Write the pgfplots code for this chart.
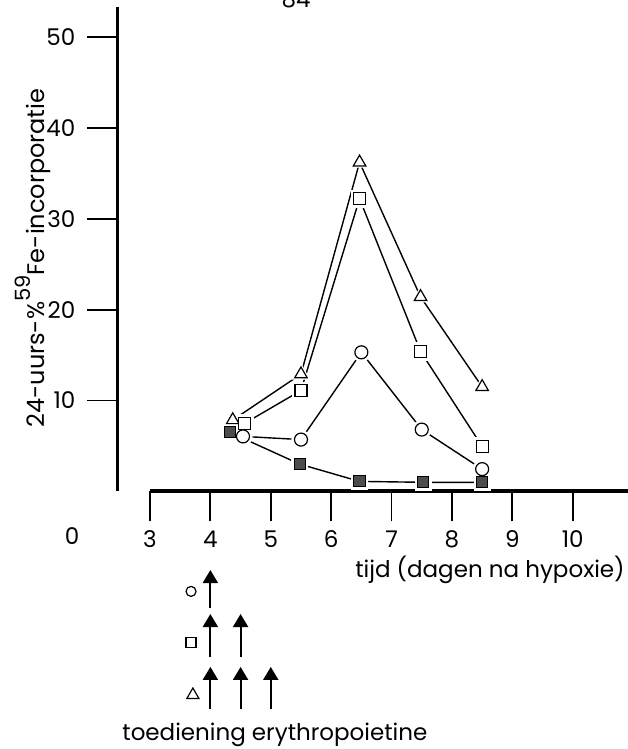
\documentclass[border=0pt]{standalone}
\usepackage{fontspec}
\setmainfont{Poppins}
\usepackage{pgfplots}
\usepackage{pgfplotstable}
\pgfplotsset{compat=1.18}
\usetikzlibrary{arrows.meta}

% 24-hour 59Fe incorporation per group (day after hypoxia, percent)
\pgfplotstableread{
x     y
4.37  7.85
5.50  12.9
6.47  36.2
7.48  21.4
8.50  11.5
}\triangledata
\pgfplotstableread{
x     y
4.57  7.5
5.50  11.1
6.47  32.2
7.48  15.4
8.50  4.95
}\squaredata
\pgfplotstableread{
x     y
4.54  6.05
5.50  5.7
6.50  15.3
7.50  6.8
8.50  2.45
}\circledata
\pgfplotstableread{
x     y
4.32  6.5
5.48  3.0
6.47  1.1
7.52  1.0
8.50  1.0
}\controldata
% erythropoietin injections: day, arrow foot, arrow length
\pgfplotstableread{
x    y       v
4.0  -12.83  4.18
4.0  -18.22  4.73
4.5  -18.22  4.73
4.0  -23.94  4.63
4.5  -23.94  4.63
5.0  -23.94  4.63
}\injections

\begin{document}
\begin{tikzpicture}[font=\fontsize{11.5}{13}\selectfont]
\begin{axis}[
  x=30.195pt, y=4.545pt,
  xmin=2.457, xmax=10.915, ymin=0, ymax=53.3,
  axis lines=left,
  axis line style={-, line width=1.4pt},
  x axis line style={draw=none},
  xtick={3,...,10}, ytick={10,20,30,40,50},
  tick align=outside,
  major tick length=15pt,
  tick style={black, line width=0.9pt},
  /pgf/number format/assume math mode=true,
  ticklabel style={font=\fontsize{11.5}{13}\selectfont, inner sep=0pt},
  xticklabel style={anchor=base, yshift=-13.3pt},
  yticklabel style={anchor=east, xshift=-5.75pt},
  clip=false,
]
% frame of the whole figure
\coordinate (bbll) at (axis cs:0.5161,-28.34);
\coordinate (bbur) at (axis cs:10.915,54.06);

% horizontal axis, broken between 0 and 3
\draw[line width=2pt] (axis cs:3,0) -- (axis cs:10.915,0);

% connecting lines
\addplot[black, line width=0.7pt] table {\triangledata};
\addplot[black, line width=0.7pt] table {\squaredata};
\addplot[black, line width=0.7pt] table {\circledata};
\addplot[black, line width=0.7pt] table {\controldata};

% white halos leave a small gap between line and symbol
\addplot[only marks, mark=triangle*, mark size=5pt, mark options={draw=white, fill=white}] table {\triangledata};
\addplot[only marks, mark=square*, mark size=4.3pt, mark options={draw=white, fill=white}] table {\squaredata};
\addplot[only marks, mark=*, mark size=4.6pt, mark options={draw=white, fill=white}] table {\circledata};
\addplot[only marks, mark=square*, mark size=4pt, mark options={draw=white, fill=white}] table {\controldata};

% symbols
\addplot[only marks, mark=triangle*, mark size=3.6pt, mark options={draw=black, fill=white, line width=0.6pt}] table {\triangledata};
\addplot[only marks, mark=square*, mark size=3pt, mark options={draw=black, fill=white, line width=0.6pt}] table {\squaredata};
\addplot[only marks, mark=*, mark size=3.25pt, mark options={draw=black, fill=white, line width=0.6pt}] table {\circledata};
\addplot[only marks, mark=square*, mark size=2.8pt, mark options={draw=black, fill=black!70, line width=0.5pt}] table {\controldata};

% erythropoietin administrations
\addplot[black, line width=1pt, -{Triangle[width=7.5pt,length=6.5pt]},
  quiver={u=0, v=\thisrow{v}}] table {\injections};
\addplot[only marks, mark=*, mark size=2.5pt, mark options={draw=black, fill=white, line width=0.6pt}] coordinates {(3.68,-11.0)};
\addplot[only marks, mark=square*, mark size=2.5pt, mark options={draw=black, fill=white, line width=0.6pt}] coordinates {(3.68,-16.66)};
\addplot[only marks, mark=triangle*, mark size=3.5pt, mark options={draw=black, fill=white, line width=0.6pt}] coordinates {(3.71,-22.4)};

% texts
\node[anchor=base, inner sep=0pt] at (axis cs:1.708,-5.79) {0};
\node[anchor=base east, inner sep=0pt] at (axis cs:10.866,-9.42) {tijd (dagen na hypoxie)};
\node[anchor=base west, inner sep=0pt] at (axis cs:2.536,-27.35) {toediening erythropoietine};
\node[anchor=base, rotate=90, inner sep=0pt, font=\fontsize{12}{13}\selectfont] at (axis cs:1.261,25.68)
  {24-uurs-\%\raisebox{0.6em}{\fontsize{10.5}{10}\selectfont 59}Fe-incorporatie};
\node[anchor=base, inner sep=0pt] at (axis cs:5.418,53.18) {-\hspace{0.4em}84\hspace{0.4em}-};
\end{axis}
\pgfresetboundingbox
\path[use as bounding box] (bbll) rectangle (bbur);
\end{tikzpicture}
\end{document}
